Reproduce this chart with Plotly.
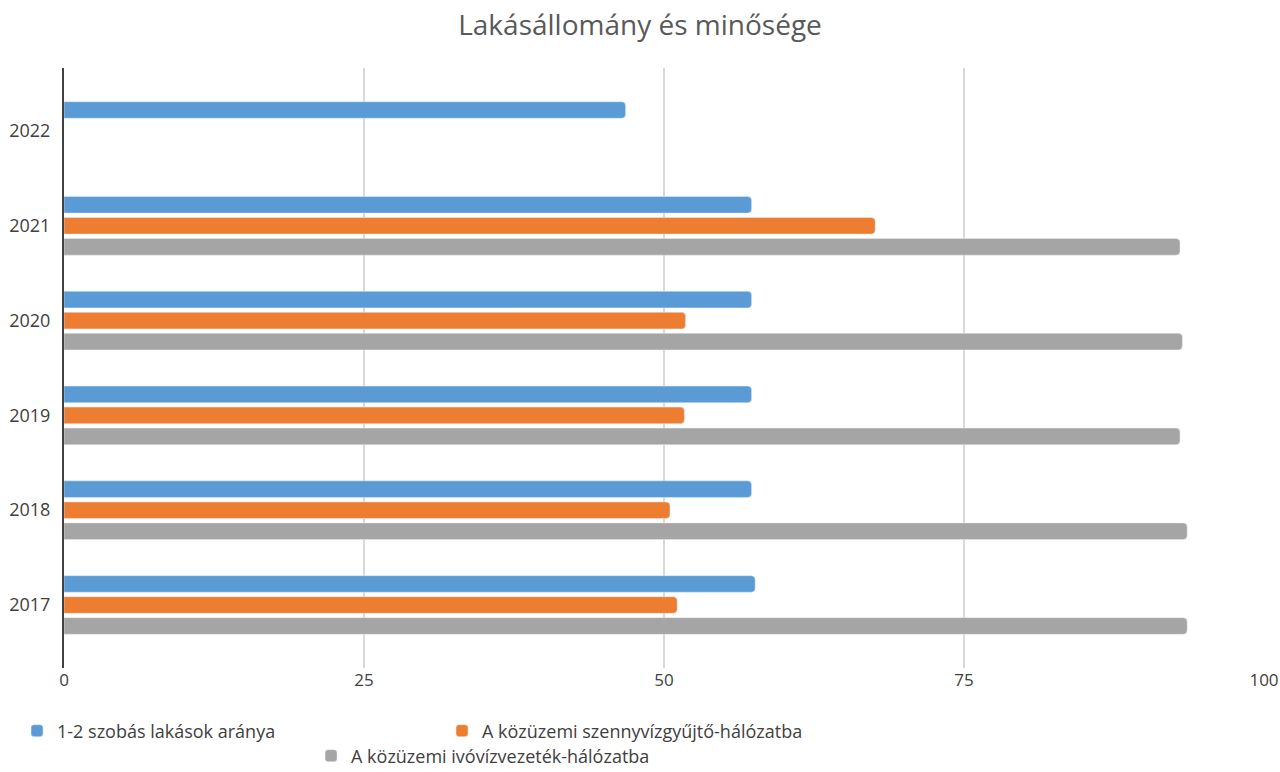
import plotly.graph_objects as go

years = ["2017", "2018", "2019", "2020", "2021", "2022"]
rooms_1_2 = [57.6, 57.3, 57.3, 57.3, 57.3, 46.8]
sewer = [51.1, 50.5, 51.7, 51.8, 67.6, None]
water = [93.6, 93.6, 93.0, 93.2, 93.0, None]

names = ["1-2 szobás lakások aránya",
         "A közüzemi szennyvízgyűjtő-hálózatba",
         "A közüzemi ivóvízvezeték-hálózatba"]
colors = ["#5b9bd5", "#ed7d31", "#a5a5a5"]
x_ticks = [0, 25, 50, 75, 100]

fig = go.Figure()
# added bottom-to-top so blue ends up on top inside each group
fig.add_trace(go.Bar(y=years, x=water, name=names[2], orientation="h",
                     marker=dict(color=colors[2], cornerradius=4),
                     legend="legend2"))
fig.add_trace(go.Bar(y=years, x=sewer, name=names[1], orientation="h",
                     marker=dict(color=colors[1], cornerradius=4),
                     legend="legend", legendrank=2))
fig.add_trace(go.Bar(y=years, x=rooms_1_2, name=names[0], orientation="h",
                     marker=dict(color=colors[0], cornerradius=4),
                     legend="legend", legendrank=1))

fig.update_layout(
    width=1280, height=772,
    margin=dict(l=64, r=16, t=68, b=104, autoexpand=False),
    paper_bgcolor="white", plot_bgcolor="white",
    barmode="group", bargap=0.335, bargroupgap=0.21,
    title=dict(text="Lakásállomány és minősége", x=0.5, xanchor="center",
               y=1 - 25 / 772, yanchor="middle",
               font=dict(family="Open Sans", size=28, color="#595959")),
    font=dict(family="Open Sans", color="#404040"),
    xaxis=dict(range=[0, 100], tickvals=x_ticks, showgrid=True,
               gridcolor="#d9d9d9", gridwidth=2, zeroline=False,
               showline=False, ticks="", automargin=False,
               tickfont=dict(size=17, color="#404040")),
    yaxis=dict(type="category", categoryorder="array", categoryarray=years,
               range=[-0.665, 5.665], showgrid=False, zeroline=False,
               showline=True, linecolor="#404040", linewidth=2,
               ticks="", ticklabelstandoff=8, automargin=False,
               tickfont=dict(size=18, color="#404040")),
    legend=dict(orientation="h", xref="container", yref="container",
                x=0.0133, xanchor="left", y=1 - 731 / 772,
                yanchor="middle", entrywidth=380, entrywidthmode="pixels",
                traceorder="normal", font=dict(size=18, color="#404040"),
                bgcolor="rgba(0,0,0,0)"),
    legend2=dict(orientation="h", xref="container", yref="container",
                 x=0.243, xanchor="left", y=1 - 756 / 772,
                 yanchor="middle", font=dict(size=18, color="#404040"),
                 bgcolor="rgba(0,0,0,0)"),
    showlegend=True,
)

fig.write_html("out.html",
               config={"displayModeBar": False},
               post_script="document.body.style.margin='0';"
                           "document.body.style.overflow='hidden';")
